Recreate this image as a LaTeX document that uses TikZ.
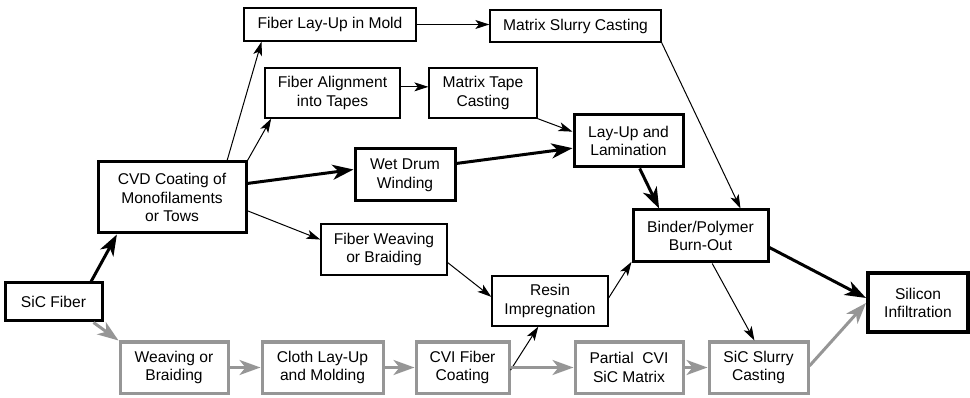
\documentclass[tikz,border=0pt]{standalone}
\usepackage{fontspec}
\setmainfont{Liberation Sans}
\usetikzlibrary{arrows.meta,calc}
\definecolor{gr}{RGB}{150,150,150}
\tikzset{
  box/.style={draw, line width=1.3pt, rectangle, inner sep=0pt, align=center,
    font=\fontsize{15.6}{18.8}\selectfont},
  thickbox/.style={box, line width=3pt},
  graybox/.style={box, draw=gr, line width=3pt},
  thinarr/.style={line width=1pt, -{Stealth[length=14pt,width=9pt,inset=3.5pt]}},
  thickarr/.style={line width=3pt, -{Stealth[length=21pt,width=15pt,inset=6pt]}},
  grayarr/.style={draw=gr, line width=3pt, -{Stealth[length=21pt,width=15pt,inset=6pt]}, color=gr},
}
\begin{document}
\begin{tikzpicture}[x=1pt,y=-1pt]
\useasboundingbox (0,0) rectangle (970,398);
% nodes
\node[box, minimum width=172pt, minimum height=33pt] (layup) at (330,24.5) {Fiber Lay-Up in Mold};
\node[box, minimum width=171pt, minimum height=32pt] (mslurry) at (575.5,26) {Matrix Slurry Casting};
\node[box, minimum width=135pt, minimum height=50pt] (falign) at (332.5,93) {Fiber Alignment\\into Tapes};
\node[box, minimum width=108pt, minimum height=50pt] (mtape) at (483,93) {Matrix Tape\\Casting};
\node[thickbox, minimum width=109pt, minimum height=52pt] (lamin) at (628.5,141) {Lay-Up and\\Lamination};
\node[thickbox, minimum width=100pt, minimum height=52pt] (wet) at (405,175) {Wet Drum\\Winding};
\node[thickbox, minimum width=148pt, minimum height=71pt] (cvd) at (172,197.5) {CVD Coating of\\Monofilaments\\or Tows};
\node[box, minimum width=126pt, minimum height=51pt] (fweave) at (384,249.5) {Fiber Weaving\\or Braiding};
\node[box, minimum width=116pt, minimum height=50pt] (resin) at (550,301) {Resin\\Impregnation};
\node[thickbox, minimum width=135pt, minimum height=52pt] (binder) at (700.5,236) {Binder/Polymer\\Burn-Out};
\node[thickbox, minimum width=97pt, minimum height=38pt] (sic) at (53.5,302) {SiC Fiber};
\node[thickbox, line width=4pt, minimum width=100pt, minimum height=59pt] (silicon) at (918,303) {Silicon\\Infiltration};
\node[graybox, minimum width=108pt, minimum height=51pt] (weave) at (174,367.5) {Weaving or\\Braiding};
\node[graybox, minimum width=121pt, minimum height=51pt] (cloth) at (322.5,367.5) {Cloth Lay-Up\\and Molding};
\node[graybox, minimum width=93pt, minimum height=51pt] (cvi) at (462.5,367.5) {CVI Fiber\\Coating};
\node[graybox, minimum width=108pt, minimum height=51pt] (partial) at (629,367.5) {Partial\ \ CVI\\SiC Matrix};
\node[graybox, minimum width=99pt, minimum height=51pt] (slurry) at (758.5,367.5) {SiC Slurry\\Casting};
% black connectors
\draw[thickarr] ($(sic.north west)!0.876!(sic.north east)$) -- ($(cvd.south west)!0.135!(cvd.south east)$);
\draw[thinarr] ($(cvd.north west)!0.865!(cvd.north east)$) -- ($(layup.south west)!0.105!(layup.south east)$);
\draw[thinarr] (cvd.north east) -- ($(falign.south west)!0.05!(falign.south east)$);
\draw[thickarr] ($(cvd.north east)!0.31!(cvd.south east)$) -- ($(wet.north west)!0.4!(wet.south west)$);
\draw[thinarr] ($(cvd.north east)!0.68!(cvd.south east)$) -- ($(fweave.north west)!0.31!(fweave.south west)$);
\draw[thinarr] (layup.east) -- (layup.east -| mslurry.west);
\draw[thinarr] ($(falign.north east)!0.38!(falign.south east)$) -- ($(mtape.north west)!0.38!(mtape.south west)$);
\draw[thinarr] (mtape.south east) -- ($(lamin.north west)!0.33!(lamin.south west)$);
\draw[thickarr] ($(wet.north east)!0.29!(wet.south east)$) -- ($(lamin.north west)!0.63!(lamin.south west)$);
\draw[thinarr] (mslurry.south east) -- ($(binder.north west)!0.79!(binder.north east)$);
\draw[thickarr] ($(lamin.south west)!0.6!(lamin.south east)$) -- ($(binder.north west)!0.2!(binder.north east)$);
\draw[thinarr] ($(fweave.north east)!0.75!(fweave.south east)$) -- ($(resin.north west)!0.42!(resin.south west)$);
\draw[thinarr] ($(resin.north east)!0.44!(resin.south east)$) -- ($(binder.north west)!0.97!(binder.south west)$);
\draw[thinarr] ($(cvi.north east)!0.55!(cvi.south east)$) -- ($(resin.south west)!0.4!(resin.south east)$);
\draw[thickarr] ($(binder.north east)!0.71!(binder.south east)$) -- ($(silicon.north west)!0.42!(silicon.south west)$);
\draw[thinarr] ($(binder.south west)!0.585!(binder.south east)$) -- ($(slurry.north west)!0.46!(slurry.north east)$);
% gray connectors
\draw[grayarr] ($(sic.south west)!0.9!(sic.south east)$) -- (weave.north west);
\draw[grayarr] (weave) -- (cloth);
\draw[grayarr] (cloth) -- (cvi);
\draw[grayarr] (cvi) -- (partial);
\draw[grayarr] (partial) -- (slurry);
\draw[grayarr] ($(slurry.north east)!0.47!(slurry.south east)$) -- ($(silicon.north west)!0.5!(silicon.south west)$);
\end{tikzpicture}
\end{document}
